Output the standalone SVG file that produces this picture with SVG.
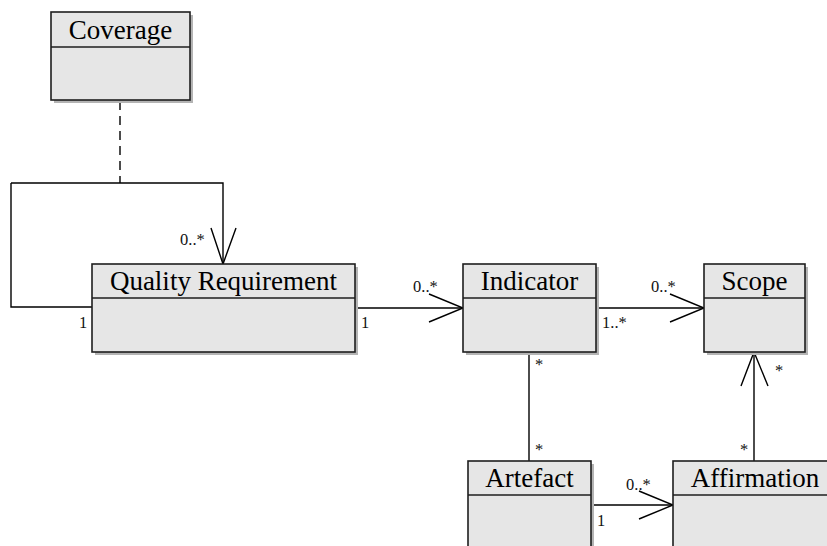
<svg xmlns="http://www.w3.org/2000/svg" width="827" height="546" viewBox="0 0 827 546">
<style>
.shadow{fill:#b4b4b4;}
.box{fill:#e6e6e6;stroke:#1e1e1e;stroke-width:1.6;}
.div{stroke:#1e1e1e;stroke-width:1.3;fill:none;}
.name{font-family:"Liberation Serif","Times New Roman",serif;font-size:27px;fill:#000;text-anchor:middle;}
.lbl{font-family:"Liberation Serif","Times New Roman",serif;font-size:16.5px;fill:#111;}
.ln{stroke:#000;stroke-width:1.4;fill:none;}
.dash{stroke:#000;stroke-width:1.4;fill:none;stroke-dasharray:9,6;}
</style>
<rect width="827" height="546" fill="#fff"/>
<g id="connectors">
  <path class="dash" d="M120,101 V183"/>
  <path class="ln" d="M11,183 H223 V264"/>
  <path class="ln" d="M11,183 V307 H92"/>
  <path class="ln" d="M211,228 L223,264 L236,228"/>
  <text class="lbl" x="180" y="245">0..*</text>
  <text class="lbl" x="79" y="328">1</text>
  <path class="ln" d="M355,308 H463"/>
  <path class="ln" d="M429,294 L463,308 L429,322"/>
  <text class="lbl" x="413" y="292">0..*</text>
  <text class="lbl" x="361" y="328">1</text>
  <path class="ln" d="M596,308 H704"/>
  <path class="ln" d="M670,294 L704,308 L670,322"/>
  <text class="lbl" x="651" y="292">0..*</text>
  <text class="lbl" x="602" y="328">1..*</text>
  <path class="ln" d="M529,352 V461"/>
  <text class="lbl" x="535" y="370">*</text>
  <text class="lbl" x="535" y="455">*</text>
  <path class="ln" d="M591,505 H673"/>
  <path class="ln" d="M639,491 L673,505 L639,519"/>
  <text class="lbl" x="626" y="490">0..*</text>
  <text class="lbl" x="597" y="526">1</text>
  <path class="ln" d="M754,461 V352"/>
  <path class="ln" d="M741,386 L754,352 L768,386"/>
  <text class="lbl" x="775" y="376">*</text>
  <text class="lbl" x="740" y="455">*</text>
</g>
<g id="coverage">
  <rect class="shadow" x="54" y="15" width="139" height="88"/>
  <rect class="box" x="51" y="12" width="139" height="88"/>
  <path class="div" d="M51,47 H190"/>
  <text class="name" x="120.5" y="39">Coverage</text>
</g>
<g id="quality-requirement">
  <rect class="shadow" x="95" y="267" width="263" height="88"/>
  <rect class="box" x="92" y="264" width="263" height="88"/>
  <path class="div" d="M92,298 H355"/>
  <text class="name" x="223.5" y="290">Quality Requirement</text>
</g>
<g id="indicator">
  <rect class="shadow" x="466" y="267" width="133" height="88"/>
  <rect class="box" x="463" y="264" width="133" height="88"/>
  <path class="div" d="M463,298 H596"/>
  <text class="name" x="529.5" y="290">Indicator</text>
</g>
<g id="scope">
  <rect class="shadow" x="707" y="267" width="101" height="88"/>
  <rect class="box" x="704" y="264" width="101" height="88"/>
  <path class="div" d="M704,298 H805"/>
  <text class="name" x="754.5" y="290">Scope</text>
</g>
<g id="artefact">
  <rect class="shadow" x="471" y="464" width="123" height="100"/>
  <rect class="box" x="468" y="461" width="123" height="100"/>
  <path class="div" d="M468,495 H591"/>
  <text class="name" x="529.5" y="487">Artefact</text>
</g>
<g id="affirmation">
  <rect class="shadow" x="676" y="464" width="162" height="100"/>
  <rect class="box" x="673" y="461" width="162" height="100"/>
  <path class="div" d="M673,495 H835"/>
  <text class="name" x="755" y="487">Affirmation</text>
</g>
</svg>
